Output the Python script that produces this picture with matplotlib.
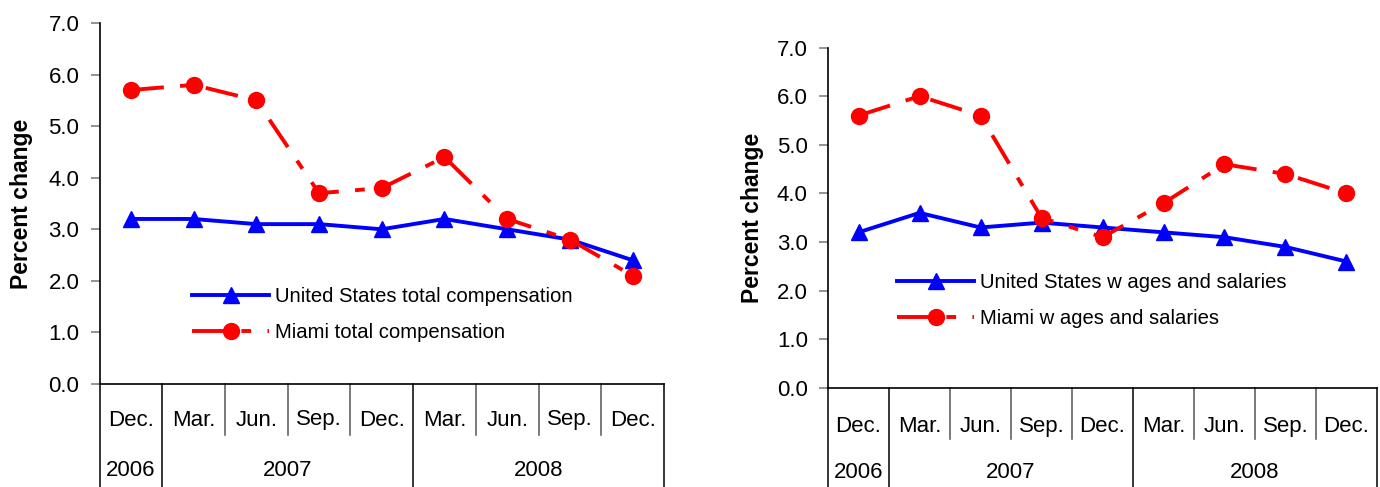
import matplotlib
matplotlib.use("Agg")
import matplotlib.pyplot as plt
from matplotlib.lines import Line2D

# ---------------- data ----------------
months = ["Dec.", "Mar.", "Jun.", "Sep.", "Dec.", "Mar.", "Jun.", "Sep.", "Dec."]
years = ["2006", "2007", "2008"]
year_spans = [(0, 0), (1, 4), (5, 8)]

us_total = [3.2, 3.2, 3.1, 3.1, 3.0, 3.2, 3.0, 2.8, 2.4]
miami_total = [5.7, 5.8, 5.5, 3.7, 3.8, 4.4, 3.2, 2.8, 2.1]

us_wages = [3.2, 3.6, 3.3, 3.4, 3.3, 3.2, 3.1, 2.9, 2.6]
miami_wages = [5.6, 6.0, 5.6, 3.5, 3.1, 3.8, 4.6, 4.4, 4.0]

left_labels = ["United States total compensation", "Miami total compensation"]
right_labels = ["United States w ages and salaries", "Miami w ages and salaries"]

yticks = [0, 1, 2, 3, 4, 5, 6, 7]

# ---------------- style ----------------
plt.rcParams['font.family'] = ['Liberation Sans', 'DejaVu Sans']
W, H = 1380, 487
fig = plt.figure(figsize=(W / 100, H / 100), dpi=100)

BLUE = "#0000FF"
RED = "#FF0000"


def make_axes(x0, x1, y0, y1):
    return fig.add_axes([x0 / W, 1 - y1 / H, (x1 - x0) / W, (y1 - y0) / H])


def draw_panel(ax, ax_h_px, us, mi, labels, month_off, year_off, month_div, year_div,
               legend_anchor):
    x = list(range(len(months)))
    ax.plot(x, us, color=BLUE, lw=2.8, marker="^", ms=11.5, mfc=BLUE, mec=BLUE,
            label=labels[0], clip_on=False, zorder=3)
    ax.plot(x, mi, color=RED, lw=2.8, marker="o", ms=11.5, mfc=RED, mec=RED,
            dashes=(8.5, 4.2, 2.5, 4.2), label=labels[1], clip_on=False, zorder=4)

    ax.set_xlim(-0.5, len(months) - 0.5)
    ax.set_ylim(0, 7)
    ax.set_yticks(yticks)
    ax.set_yticklabels([f"{v:.1f}" for v in yticks])
    ax.set_xticks([])
    ax.tick_params(axis="y", length=6.5, width=1.2, color="#808080", pad=8,
                   labelsize=16, direction="out")
    for s in ["top", "right"]:
        ax.spines[s].set_visible(False)
    for s in ["left", "bottom"]:
        ax.spines[s].set_linewidth(1.2)
        ax.spines[s].set_color("black")

    tr = ax.get_xaxis_transform()
    # month labels
    for i, m in enumerate(months):
        ax.annotate(m, xy=(i, 0), xycoords=tr, xytext=(0, -month_off * 0.72),
                    textcoords="offset points", ha="center", va="center",
                    fontsize=16)
    # year labels
    for yr, (a, b) in zip(years, year_spans):
        ax.annotate(yr, xy=((a + b) / 2, 0), xycoords=tr,
                    xytext=(0, -year_off * 0.72), textcoords="offset points",
                    ha="center", va="center", fontsize=16)
    # dividers
    year_bounds = [-0.5] + [b + 0.5 for (_, b) in year_spans]
    for k in range(len(months) + 1):
        xb = k - 0.5
        if xb in year_bounds:
            depth = year_div / ax_h_px
            col = "black"
        else:
            depth = month_div / ax_h_px
            col = "#555555"
        ax.add_line(Line2D([xb, xb], [0, -depth], transform=tr, color=col,
                           lw=1.1, clip_on=False))

    leg = ax.legend(loc="upper left", bbox_to_anchor=legend_anchor, frameon=False,
                    fontsize=14.6, handlelength=3.8, handletextpad=0.3,
                    numpoints=1, borderpad=0, borderaxespad=0, labelspacing=0.85)
    return leg


# left panel
L = (99.5, 664, 23, 384)
axL = make_axes(*L)
draw_panel(axL, L[3] - L[2], us_total, miami_total, left_labels,
           month_off=36, year_off=86, month_div=51, year_div=103,
           legend_anchor=((192 - L[0]) / (L[1] - L[0]), (L[3] - 287) / (L[3] - L[2])))
fig.text(22 / W, 1 - 204 / H, "Percent change", rotation=90, ha="center",
         va="center", fontsize=16.5, fontweight="bold")

# right panel
R = (828, 1377, 47.5, 388)
axR = make_axes(*R)
draw_panel(axR, R[3] - R[2], us_wages, miami_wages, right_labels,
           month_off=38.5, year_off=85, month_div=51, year_div=99,
           legend_anchor=((897 - R[0]) / (R[1] - R[0]), (R[3] - 273) / (R[3] - R[2])))
fig.text(752 / W, 1 - 217.5 / H, "Percent change", rotation=90, ha="center",
         va="center", fontsize=16.5, fontweight="bold")

fig.savefig("out.png", dpi=100)
